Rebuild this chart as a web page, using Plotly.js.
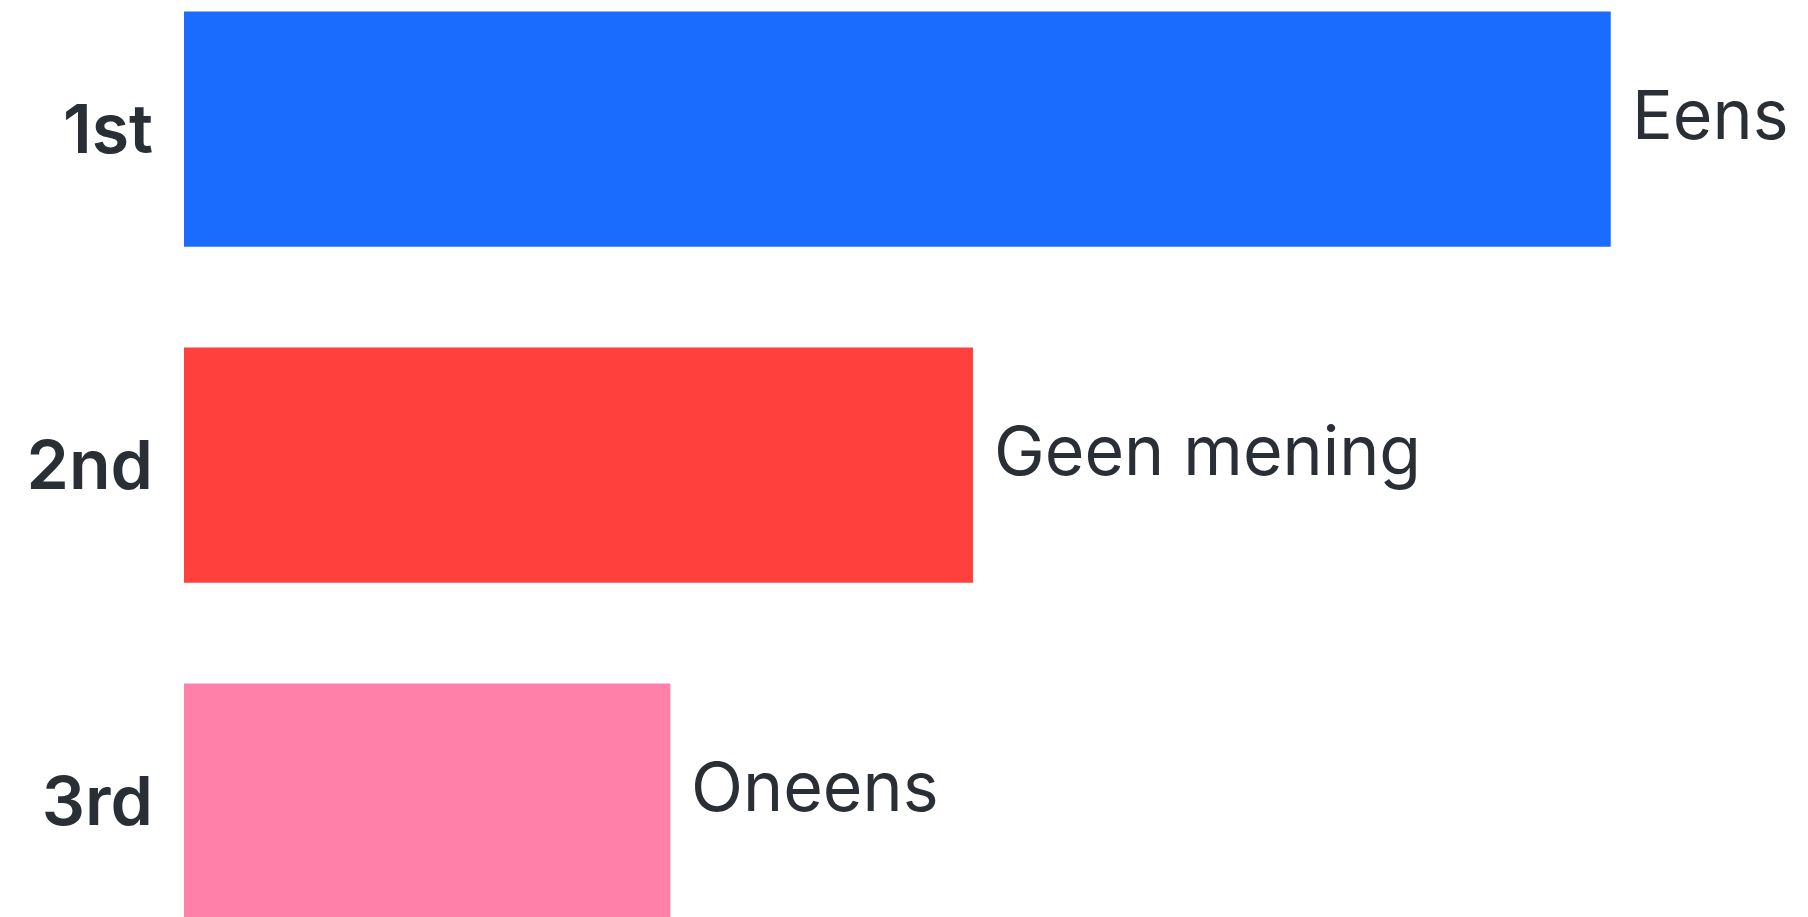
<!DOCTYPE html>
<html>
<head>
<meta charset="utf-8">
<script src="https://cdn.plot.ly/plotly-3.0.1.min.js"></script>
<style>
html,body{margin:0;padding:0;background:#fff;overflow:hidden;}
#chart{width:1808px;height:917px;}
</style>
</head>
<body>
<div id="chart"></div>
<script>
const ranks = ["1st", "2nd", "3rd"];
const answers = ["Eens", "Geen mening", "Oneens"];
const values = [52.8, 29.2, 18.0];
const colors = ["#1a6bff", "#ff403c", "#ff80a9"];

const textColor = "#2a2e35";

const trace = {
  type: "bar",
  orientation: "h",
  y: ranks,
  x: values,
  marker: {color: colors, line: {width: 0}},
  width: 0.7,
  hoverinfo: "none"
};

const annotations = answers.map((a, i) => ({
  x: values[i],
  y: ranks[i],
  xref: "x",
  yref: "y",
  text: a,
  showarrow: false,
  xanchor: "left",
  yanchor: "middle",
  xshift: 19,
  yshift: 15,
  font: {family: "Inter, sans-serif", size: 68, color: textColor}
}));

const layout = {
  width: 1808,
  height: 917,
  margin: {l: 184, r: 0, t: 0, b: 0},
  paper_bgcolor: "#ffffff",
  plot_bgcolor: "#ffffff",
  showlegend: false,
  xaxis: {
    range: [0, 60.1],
    visible: false,
    showgrid: false,
    zeroline: false,
    fixedrange: true
  },
  yaxis: {
    type: "category",
    range: [2.345, -0.384],
    showgrid: false,
    zeroline: false,
    showline: false,
    ticks: "",
    ticklabelstandoff: 30,
    tickfont: {family: "Inter, sans-serif", size: 68, color: textColor, weight: 600},
    fixedrange: true
  },
  annotations: annotations
};

Plotly.newPlot("chart", [trace], layout, {displayModeBar: false, staticPlot: true});
</script>
</body>
</html>
